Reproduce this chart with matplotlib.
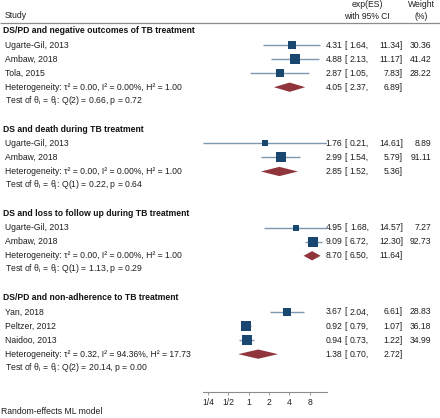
import matplotlib
matplotlib.use("Agg")
import matplotlib.pyplot as plt
from matplotlib.patches import Polygon
import numpy as np

plt.rcParams['font.family'] = ['Liberation Sans', 'DejaVu Sans']
plt.rcParams['mathtext.fontset'] = 'custom'
plt.rcParams['mathtext.rm'] = 'Liberation Sans'
plt.rcParams['mathtext.it'] = 'Liberation Sans'

# ---------------- data ----------------
section_titles = [
    "DS/PD and negative outcomes of TB treatment",
    "DS and death during TB treatment",
    "DS and loss to follow up during TB treatment",
    "DS/PD and non-adherence to TB treatment",
]
study_names = [
    ["Ugarte-Gil, 2013", "Ambaw, 2018", "Tola, 2015"],
    ["Ugarte-Gil, 2013", "Ambaw, 2018"],
    ["Ugarte-Gil, 2013", "Ambaw, 2018"],
    ["Yan, 2018", "Peltzer, 2012", "Naidoo, 2013"],
]
study_est = [[4.31, 4.88, 2.87], [1.76, 2.99], [4.95, 9.09], [3.67, 0.92, 0.94]]
study_lo = [[1.64, 2.13, 1.05], [0.21, 1.54], [1.68, 6.72], [2.04, 0.79, 0.73]]
study_hi = [[11.34, 11.17, 7.83], [14.61, 5.79], [14.57, 12.30], [6.61, 1.07, 1.22]]
study_weight = [[30.36, 41.42, 28.22], [8.89, 91.11], [7.27, 92.73], [28.83, 36.18, 34.99]]
pooled_est = [4.05, 2.85, 8.70, 1.38]
pooled_lo = [2.37, 1.52, 6.50, 0.70]
pooled_hi = [6.89, 5.36, 11.64, 2.72]
tau2 = ["0.00", "0.00", "0.00", "0.32"]
i2 = ["0.00", "0.00", "0.00", "94.36"]
h2 = ["1.00", "1.00", "1.00", "17.73"]
q_df = [2, 1, 1, 2]
q_stat = ["0.66", "0.22", "1.13", "20.14"]
q_p = ["0.72", "0.64", "0.29", "0.00"]
tick_values = [0.25, 0.5, 1, 2, 4, 8]
tick_labels = ["1/4", "1/2", "1", "2", "4", "8"]

# ---------------- layout ----------------
W, H = 440, 418
Y0, DY = 31.0, 14.05          # pixel y of row 0 and row spacing
AXIS_Y = 392.0                # pixel y of the x axis line
HEAD_Y = 22.7                 # pixel y of header rule
PLOT_X0, PLOT_X1 = 202.9, 327.3

def row_of_px(py):
    return (py - Y0) / DY

fig = plt.figure(figsize=(W / 100, H / 100), dpi=100)
fig.patch.set_facecolor('white')

# text axes covering the whole figure: x in pixels, y in row units
tax = fig.add_axes([0, 0, 1, 1])
tax.set_xlim(0, W)
tax.set_ylim(row_of_px(H), row_of_px(0))
tax.axis('off')

# forest axes
fax = fig.add_axes([PLOT_X0 / W, (H - AXIS_Y) / H, (PLOT_X1 - PLOT_X0) / W, (AXIS_Y - HEAD_Y) / H])
fax.set_xscale('log', base=2)
all_lo = min(min(v) for v in study_lo)
all_hi = max(max(v) for v in study_hi)
fax.set_xlim(all_lo, all_hi)
fax.set_ylim(row_of_px(AXIS_Y), row_of_px(HEAD_Y))
fax.patch.set_alpha(0)
for s in ['top', 'right', 'left']:
    fax.spines[s].set_visible(False)
fax.spines['bottom'].set_color('#8c8c8c')
fax.spines['bottom'].set_linewidth(0.8)
fax.set_yticks([])
fax.set_xticks(tick_values)
fax.set_xticklabels(tick_labels)
fax.xaxis.set_minor_locator(matplotlib.ticker.NullLocator())
fax.tick_params(axis='x', length=2.5, width=0.6, color='#8c8c8c', labelsize=6.2,
                labelcolor='#222222', pad=2)

FS = 6.2
TXT = '#1e1e1e'
SQ = '#1a476f'
CI = '#7f98b2'
DIA = '#90353b'

# header
tax.text(5, row_of_px(16), "Study", fontsize=FS, color=TXT, va='center', ha='left')
tax.text(367, row_of_px(5), "exp(ES)", fontsize=FS, color=TXT, va='center', ha='center')
tax.text(367, row_of_px(16.5), "with 95% CI", fontsize=FS, color=TXT, va='center', ha='center')
tax.text(421.5, row_of_px(5), "Weight", fontsize=FS, color=TXT, va='center', ha='center')
tax.text(421.5, row_of_px(16.5), "(%)", fontsize=FS, color=TXT, va='center', ha='center')
tax.plot([0, W], [row_of_px(HEAD_Y)] * 2, color='#8c8c8c', lw=0.9, solid_capstyle='butt')

X_EST, X_BRK, X_LO, X_HI, X_W = 342.5, 344.0, 369.0, 403.0, 431.5

def stats_text(k, e, lo, hi, w=None):
    tax.text(X_EST, k, f"{e:.2f}", fontsize=FS, color=TXT, va='center', ha='right')
    tax.text(X_BRK, k, "[", fontsize=FS, color=TXT, va='center', ha='left')
    tax.text(X_LO, k, f"{lo:.2f},", fontsize=FS, color=TXT, va='center', ha='right')
    tax.text(X_HI, k, f"{hi:.2f}]", fontsize=FS, color=TXT, va='center', ha='right')
    if w is not None:
        tax.text(X_W, k, f"{w:.2f}", fontsize=FS, color=TXT, va='center', ha='right')

k = 0
for si, title in enumerate(section_titles):
    tax.text(3, k, title, fontsize=FS, color='#111111', fontweight='bold', va='center', ha='left')
    k += 1
    for name, e, lo, hi, w in zip(study_names[si], study_est[si], study_lo[si],
                                  study_hi[si], study_weight[si]):
        tax.text(5, k, name, fontsize=FS, color=TXT, va='center', ha='left')
        fax.plot([lo, hi], [k, k], color=CI, lw=1.0, solid_capstyle='butt', zorder=2)
        side_px = float(np.clip(3.0 + 1.05 * np.sqrt(w), 5.7, 9.5))
        fax.plot([e], [k], marker='s', markersize=side_px * 0.72, color=SQ,
                 markeredgewidth=0, zorder=3)
        stats_text(k, e, lo, hi, w)
        k += 1
    # pooled diamond
    hh = 0.33
    dia = Polygon([(pooled_lo[si], k), (pooled_est[si], k - hh), (pooled_hi[si], k),
                   (pooled_est[si], k + hh)], closed=True, facecolor=DIA, edgecolor='none', zorder=3)
    fax.add_patch(dia)
    tax.text(5, k, f"Heterogeneity: τ² = {tau2[si]}, I² = {i2[si]}%, H² = {h2[si]}",
             fontsize=FS, color=TXT, va='center', ha='left')
    stats_text(k, pooled_est[si], pooled_lo[si], pooled_hi[si])
    k += 1
    tax.text(5, k, r"Test of $\mathrm{θ_i}$ = $\mathrm{θ_j}$: " + f"Q({q_df[si]}) = {q_stat[si]}, p = {q_p[si]}",
             fontsize=FS, color=TXT, va='center', ha='left')
    k += 2

tax.text(1, row_of_px(411), "Random-effects ML model", fontsize=FS, color=TXT, va='center', ha='left')

fig.savefig("out.png", dpi=100)
